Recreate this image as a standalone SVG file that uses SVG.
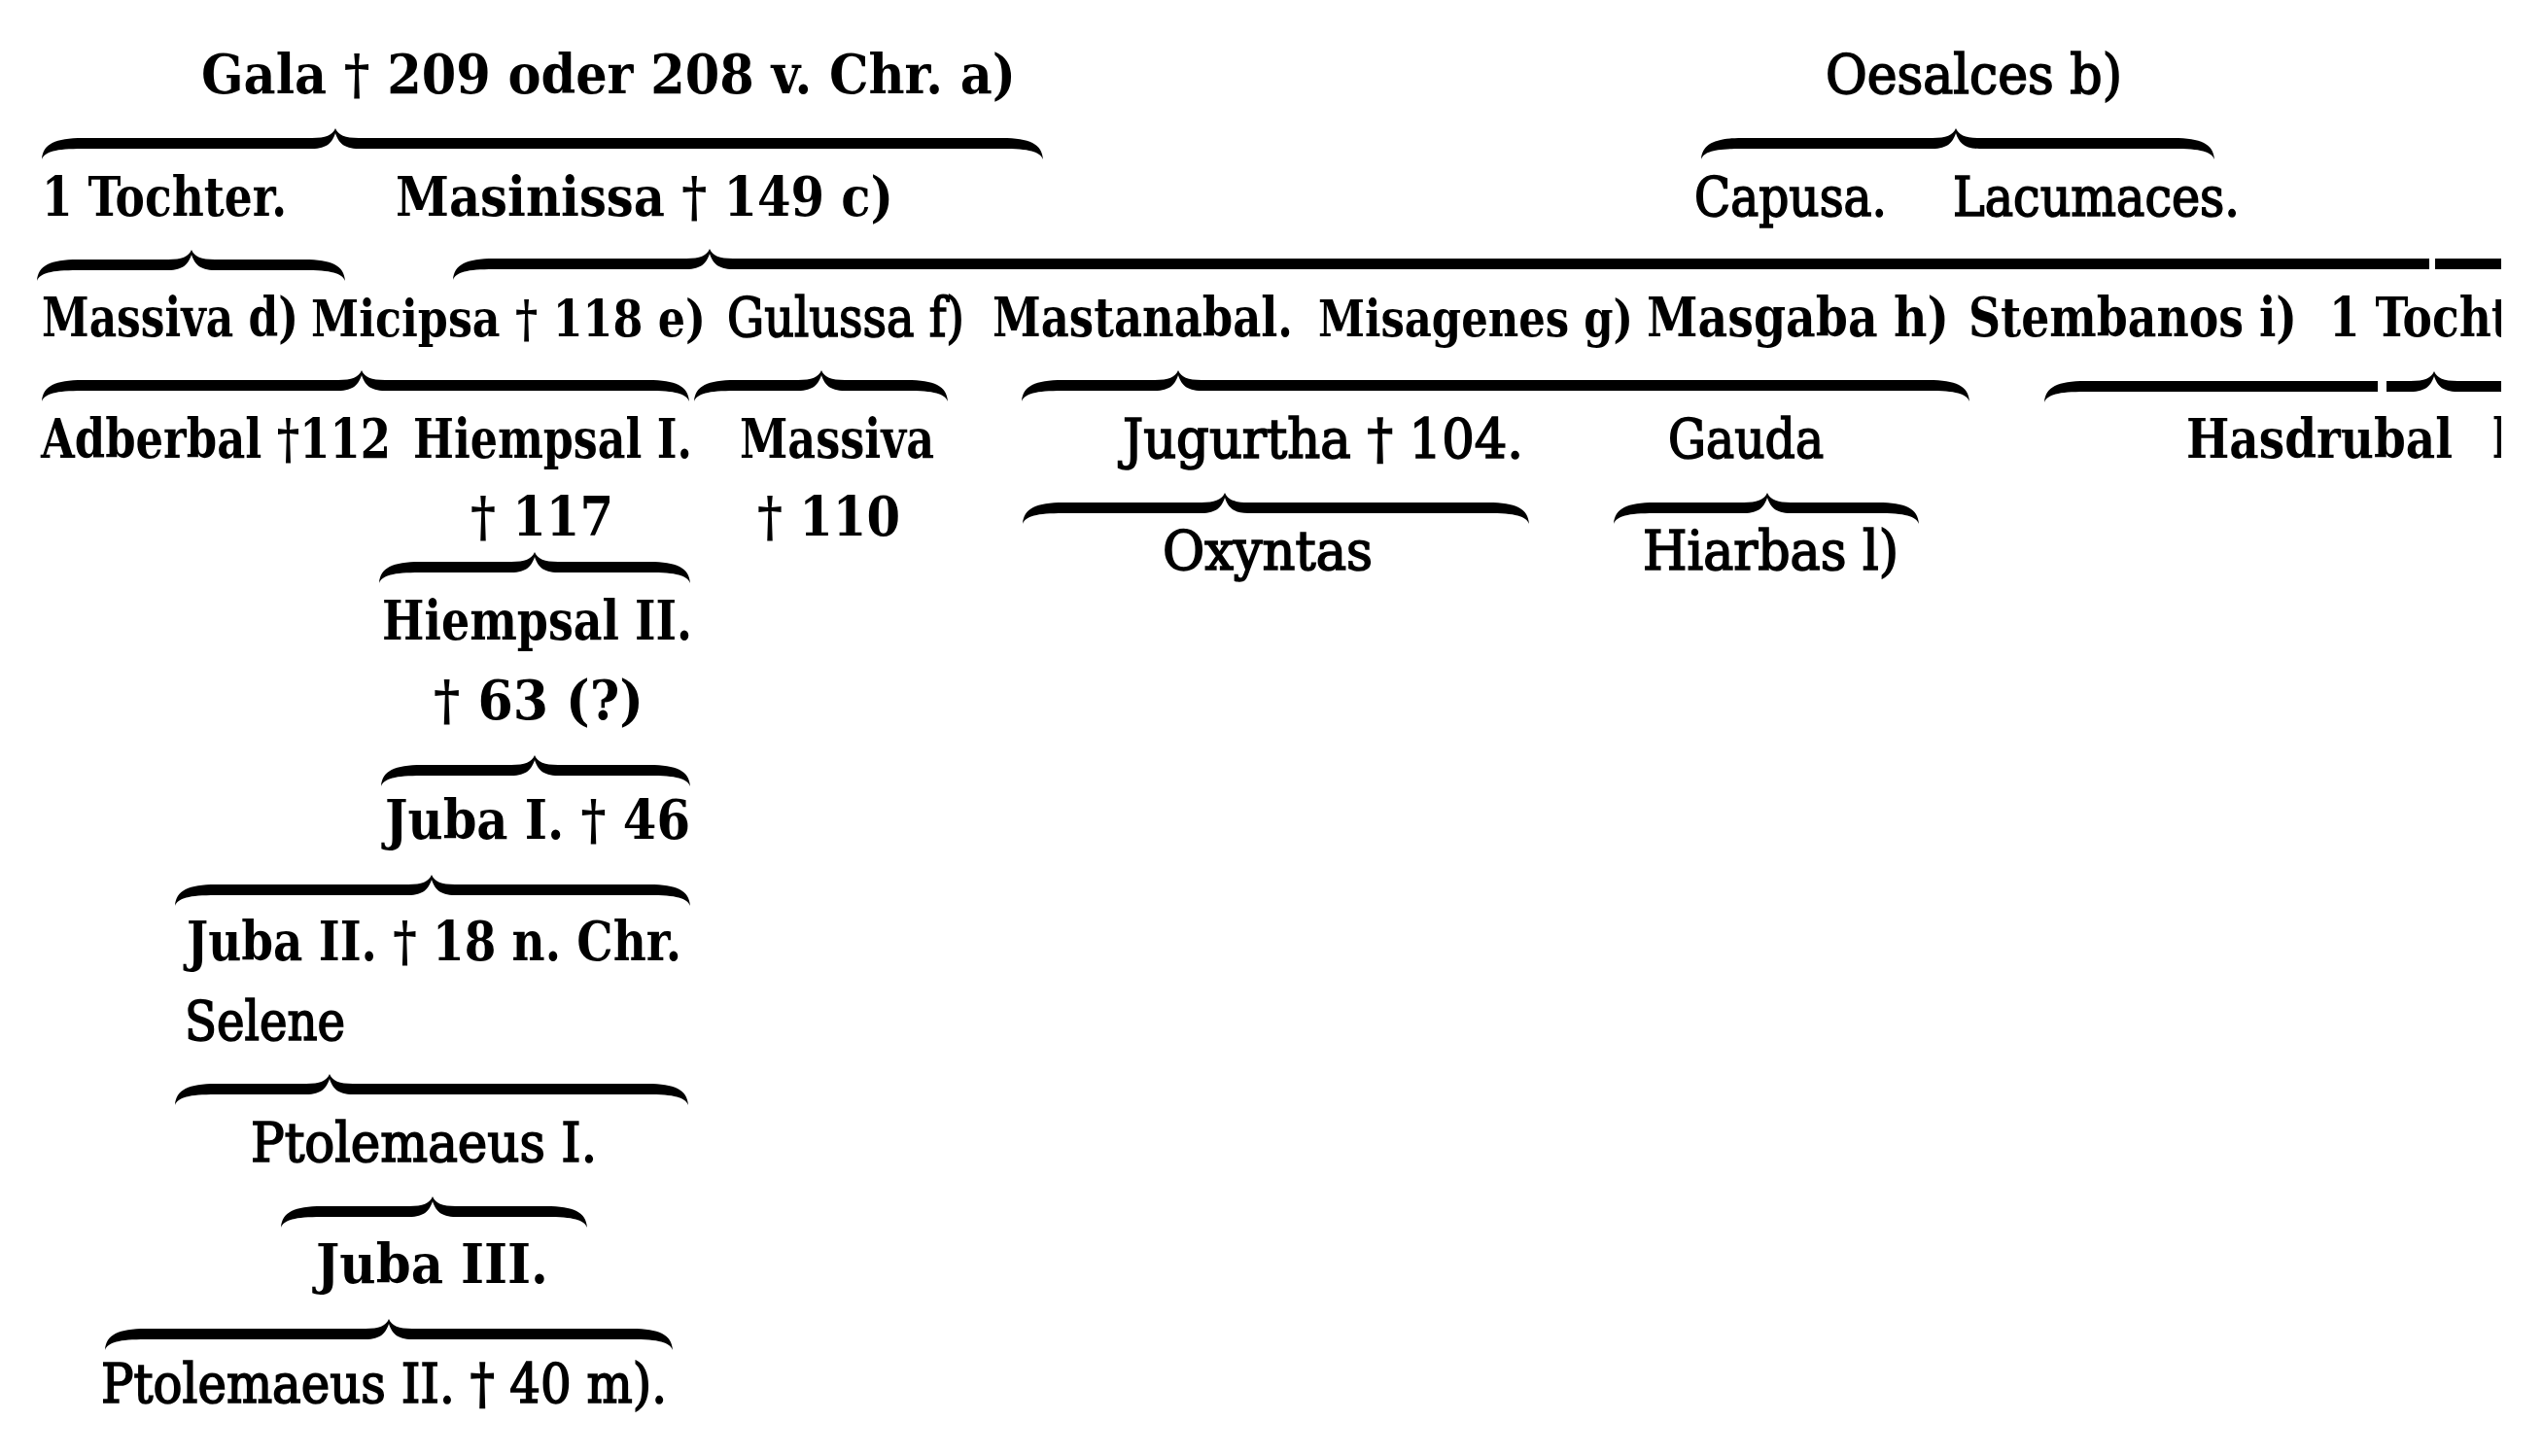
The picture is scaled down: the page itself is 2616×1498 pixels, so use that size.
<svg xmlns="http://www.w3.org/2000/svg" width="2616" height="1498" viewBox="0 0 2616 1498">
<style>
.t{font-family:"DejaVu Serif Condensed","DejaVu Serif","Liberation Serif",serif;font-stretch:condensed;font-size:56px;fill:#000}
.s{font-size:52px}
.b{font-weight:bold}
.r{font-weight:normal;stroke:#000;stroke-width:1.6px}
.brace{fill:#000;stroke:none}
.gap{fill:#fff}
</style>
<defs>
<clipPath id="page"><rect x="0" y="0" width="2573" height="1498"/></clipPath>
</defs>
<rect width="2616" height="1498" fill="#fff"/>
<g clip-path="url(#page)">
<g id="connectors">
<path class="brace" d="M43,164 C44,148 57,142 85,142 L321,142 C335,142 342,139 345,132 C348,139 355,142 369,142 L1031,142 C1059,142 1072,148 1073,164 C1070,156 1059,153 1031,153 L369,153 C353,153 348,146 345,137 C342,146 337,153 321,153 L85,153 C57,153 46,156 43,164 Z"/>
<path class="brace" d="M1750,164 C1751,148 1764,142 1792,142 L1988,142 C2002,142 2009,139 2012,132 C2015,139 2022,142 2036,142 L2236,142 C2264,142 2277,148 2278,164 C2275,156 2264,153 2236,153 L2036,153 C2020,153 2015,146 2012,137 C2009,146 2004,153 1988,153 L1792,153 C1764,153 1753,156 1750,164 Z"/>
<path class="brace" d="M38,289 C39,273 52,267 80,267 L173,267 C187,267 194,264 197,257 C200,264 207,267 221,267 L313,267 C341,267 354,273 355,289 C352,281 341,278 313,278 L221,278 C205,278 200,271 197,262 C194,271 189,278 173,278 L80,278 C52,278 41,281 38,289 Z"/>
<path class="brace" d="M466,288 C467,272 480,266 508,266 L706,266 C720,266 727,263 730,256 C733,263 740,266 754,266 L2658,266 C2686,266 2699,272 2700,288 C2697,280 2686,277 2658,277 L754,277 C738,277 733,270 730,261 C727,270 722,277 706,277 L508,277 C480,277 469,280 466,288 Z"/>
<rect class="gap" x="2499" y="262" width="6" height="20"/>
<path class="brace" d="M43,413 C44,397 57,391 85,391 L348,391 C362,391 369,388 372,381 C375,388 382,391 396,391 L667,391 C695,391 708,397 709,413 C706,405 695,402 667,402 L396,402 C380,402 375,395 372,386 C369,395 364,402 348,402 L85,402 C57,402 46,405 43,413 Z"/>
<path class="brace" d="M714,413 C715,397 728,391 756,391 L821,391 C835,391 842,388 845,381 C848,388 855,391 869,391 L933,391 C961,391 974,397 975,413 C972,405 961,402 933,402 L869,402 C853,402 848,395 845,386 C842,395 837,402 821,402 L756,402 C728,402 717,405 714,413 Z"/>
<path class="brace" d="M1051,413 C1052,397 1065,391 1093,391 L1188,391 C1202,391 1209,388 1212,381 C1215,388 1222,391 1236,391 L1984,391 C2012,391 2025,397 2026,413 C2023,405 2012,402 1984,402 L1236,402 C1220,402 1215,395 1212,386 C1209,395 1204,402 1188,402 L1093,402 C1065,402 1054,405 1051,413 Z"/>
<path class="brace" d="M2103,414 C2104,398 2117,392 2145,392 L2480,392 C2494,392 2501,389 2504,382 C2507,389 2514,392 2528,392 L2658,392 C2686,392 2699,398 2700,414 C2697,406 2686,403 2658,403 L2528,403 C2512,403 2507,396 2504,387 C2501,396 2496,403 2480,403 L2145,403 C2117,403 2106,406 2103,414 Z"/>
<rect class="gap" x="2446" y="388" width="9" height="20"/>
<path class="brace" d="M390,600 C391,584 404,578 432,578 L526,578 C540,578 547,575 550,568 C553,575 560,578 574,578 L668,578 C696,578 709,584 710,600 C707,592 696,589 668,589 L574,589 C558,589 553,582 550,573 C547,582 542,589 526,589 L432,589 C404,589 393,592 390,600 Z"/>
<path class="brace" d="M1052,539 C1053,523 1066,517 1094,517 L1236,517 C1250,517 1257,514 1260,507 C1263,514 1270,517 1284,517 L1531,517 C1559,517 1572,523 1573,539 C1570,531 1559,528 1531,528 L1284,528 C1268,528 1263,521 1260,512 C1257,521 1252,528 1236,528 L1094,528 C1066,528 1055,531 1052,539 Z"/>
<path class="brace" d="M1660,539 C1661,523 1674,517 1702,517 L1794,517 C1808,517 1815,514 1818,507 C1821,514 1828,517 1842,517 L1932,517 C1960,517 1973,523 1974,539 C1971,531 1960,528 1932,528 L1842,528 C1826,528 1821,521 1818,512 C1815,521 1810,528 1794,528 L1702,528 C1674,528 1663,531 1660,539 Z"/>
<path class="brace" d="M392,809 C393,793 406,787 434,787 L526,787 C540,787 547,784 550,777 C553,784 560,787 574,787 L668,787 C696,787 709,793 710,809 C707,801 696,798 668,798 L574,798 C558,798 553,791 550,782 C547,791 542,798 526,798 L434,798 C406,798 395,801 392,809 Z"/>
<path class="brace" d="M180,932 C181,916 194,910 222,910 L420,910 C434,910 441,907 444,900 C447,907 454,910 468,910 L668,910 C696,910 709,916 710,932 C707,924 696,921 668,921 L468,921 C452,921 447,914 444,905 C441,914 436,921 420,921 L222,921 C194,921 183,924 180,932 Z"/>
<path class="brace" d="M180,1137 C181,1121 194,1115 222,1115 L315,1115 C329,1115 336,1112 339,1105 C342,1112 349,1115 363,1115 L666,1115 C694,1115 707,1121 708,1137 C705,1129 694,1126 666,1126 L363,1126 C347,1126 342,1119 339,1110 C336,1119 331,1126 315,1126 L222,1126 C194,1126 183,1129 180,1137 Z"/>
<path class="brace" d="M289,1263 C290,1247 303,1241 331,1241 L421,1241 C435,1241 442,1238 445,1231 C448,1238 455,1241 469,1241 L562,1241 C590,1241 603,1247 604,1263 C601,1255 590,1252 562,1252 L469,1252 C453,1252 448,1245 445,1236 C442,1245 437,1252 421,1252 L331,1252 C303,1252 292,1255 289,1263 Z"/>
<path class="brace" d="M108,1389 C109,1373 122,1367 150,1367 L376,1367 C390,1367 397,1364 400,1357 C403,1364 410,1367 424,1367 L650,1367 C678,1367 691,1373 692,1389 C689,1381 678,1378 650,1378 L424,1378 C408,1378 403,1371 400,1362 C397,1371 392,1378 376,1378 L150,1378 C122,1378 111,1381 108,1389 Z"/>
</g>
<g id="gala"><text class="t b" x="207" y="96" textLength="838" lengthAdjust="spacingAndGlyphs">Gala † 209 oder 208 v. Chr. a)</text></g>
<g id="oesalces"><text class="t r" x="1878" y="96" textLength="305" lengthAdjust="spacingAndGlyphs">Oesalces b)</text></g>
<g id="tochter1"><text class="t b" x="43" y="222" textLength="252" lengthAdjust="spacingAndGlyphs">1 Tochter.</text></g>
<g id="masinissa"><text class="t b" x="407" y="222" textLength="512" lengthAdjust="spacingAndGlyphs">Masinissa † 149 c)</text></g>
<g id="capusa"><text class="t r" x="1743" y="222" textLength="198" lengthAdjust="spacingAndGlyphs">Capusa.</text></g>
<g id="lacumaces"><text class="t r" x="2009" y="222" textLength="295" lengthAdjust="spacingAndGlyphs">Lacumaces.</text></g>
<g id="massiva1"><text class="t b" x="43" y="346" textLength="264" lengthAdjust="spacingAndGlyphs">Massiva d)</text></g>
<g id="micipsa"><text class="t b s" x="320" y="346" textLength="406" lengthAdjust="spacingAndGlyphs">Micipsa † 118 e)</text></g>
<g id="gulussa"><text class="t r" x="748" y="346" textLength="244" lengthAdjust="spacingAndGlyphs">Gulussa f)</text></g>
<g id="mastanabal"><text class="t b" x="1021" y="346" textLength="309" lengthAdjust="spacingAndGlyphs">Mastanabal.</text></g>
<g id="misagenes"><text class="t b s" x="1356" y="346" textLength="324" lengthAdjust="spacingAndGlyphs">Misagenes g)</text></g>
<g id="masgaba"><text class="t b" x="1694" y="346" textLength="311" lengthAdjust="spacingAndGlyphs">Masgaba h)</text></g>
<g id="stembanos"><text class="t b" x="2025" y="346" textLength="338" lengthAdjust="spacingAndGlyphs">Stembanos i)</text></g>
<g id="tochter2"><text class="t b" x="2396" y="346" textLength="252" lengthAdjust="spacingAndGlyphs">1 Tochter.</text></g>
<g id="adberbal"><text class="t b" x="42" y="471" textLength="360" lengthAdjust="spacingAndGlyphs">Adberbal †112</text></g>
<g id="hiempsal1"><text class="t b" x="425" y="471" textLength="287" lengthAdjust="spacingAndGlyphs">Hiempsal I.</text><text class="t b" x="484" y="551" textLength="147" lengthAdjust="spacingAndGlyphs">† 117</text></g>
<g id="massiva2"><text class="t b" x="761" y="471" textLength="200" lengthAdjust="spacingAndGlyphs">Massiva</text><text class="t b" x="779" y="551" textLength="147" lengthAdjust="spacingAndGlyphs">† 110</text></g>
<g id="jugurtha"><text class="t r" x="1155" y="471" textLength="412" lengthAdjust="spacingAndGlyphs">Jugurtha † 104.</text></g>
<g id="gauda"><text class="t r" x="1716" y="471" textLength="160" lengthAdjust="spacingAndGlyphs">Gauda</text></g>
<g id="hasdrubal"><text class="t b" x="2249" y="471" textLength="274" lengthAdjust="spacingAndGlyphs">Hasdrubal</text><text class="t b" x="2564" y="471" textLength="52" lengthAdjust="spacingAndGlyphs">k)</text></g>
<g id="oxyntas"><text class="t r" x="1196" y="586" textLength="216" lengthAdjust="spacingAndGlyphs">Oxyntas</text></g>
<g id="hiarbas"><text class="t r" x="1690" y="586" textLength="263" lengthAdjust="spacingAndGlyphs">Hiarbas l)</text></g>
<g id="hiempsal2"><text class="t b" x="393" y="658" textLength="319" lengthAdjust="spacingAndGlyphs">Hiempsal II.</text><text class="t b" x="446" y="740" textLength="216" lengthAdjust="spacingAndGlyphs">† 63 (?)</text></g>
<g id="juba1"><text class="t b" x="396" y="863" textLength="314" lengthAdjust="spacingAndGlyphs">Juba I. † 46</text></g>
<g id="juba2"><text class="t b" x="192" y="988" textLength="509" lengthAdjust="spacingAndGlyphs">Juba II. † 18 n. Chr.</text></g>
<g id="selene"><text class="t r" x="190" y="1070" textLength="165" lengthAdjust="spacingAndGlyphs">Selene</text></g>
<g id="ptolemaeus1"><text class="t r" x="258" y="1195" textLength="356" lengthAdjust="spacingAndGlyphs">Ptolemaeus I.</text></g>
<g id="juba3"><text class="t b" x="325" y="1320" textLength="239" lengthAdjust="spacingAndGlyphs">Juba III.</text></g>
<g id="ptolemaeus2"><text class="t r" x="104" y="1443" textLength="582" lengthAdjust="spacingAndGlyphs">Ptolemaeus II. † 40 m).</text></g>
</g>
</svg>
